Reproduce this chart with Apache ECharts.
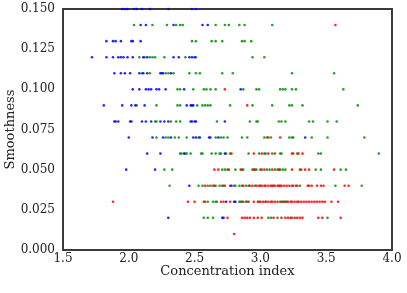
<!DOCTYPE html>
<html>
<head>
<meta charset="utf-8">
<script src="https://cdn.jsdelivr.net/npm/echarts@6/dist/echarts.min.js"></script>
<style>
html,body{margin:0;padding:0;background:#fff;}
#chart{width:407px;height:293px;}
</style>
</head>
<body>
<div id="chart"></div>
<script>
// x tick labels / y tick labels
const xTicks = [1.5, 2.0, 2.5, 3.0, 3.5, 4.0];
const yTicks = [0.000, 0.025, 0.050, 0.075, 0.100, 0.125, 0.150];

// Each row: [smoothness, [concentration index values...]]
const blueRows = [
  [0.15, [1.95, 1.97, 1.99, 2.04, 2.06, 2.10, 2.16, 2.30, 2.48, 2.51]],
  [0.14, [2.09, 2.13, 2.34, 2.56, 2.60]],
  [0.13, [1.83, 1.88, 1.90, 1.94, 2.02, 2.03, 2.09]],
  [0.12, [1.72, 1.83, 1.88, 1.92, 1.94, 1.96, 1.99, 2.03, 2.11, 2.14, 2.34, 2.38, 2.46, 2.48, 2.50]],
  [0.11, [1.89, 1.94, 1.97, 2.01, 2.08, 2.11, 2.14, 2.24, 2.25, 2.26, 2.32]],
  [0.10, [2.03, 2.08, 2.13, 2.15, 2.17, 2.21, 2.23, 2.28, 2.42, 2.85]],
  [0.09, [1.81, 1.95, 2.02, 2.05, 2.12, 2.44, 2.47, 2.48, 2.49]],
  [0.08, [1.89, 1.90, 1.92, 2.01, 2.02, 2.10, 2.13, 2.17, 2.24, 2.27, 2.30, 2.47, 2.48, 2.50, 2.51, 2.73]],
  [0.07, [2.00, 2.18, 2.26, 2.32, 2.49, 2.51, 2.54, 2.61, 2.62, 2.68, 3.34]],
  [0.06, [2.14, 2.24, 2.42, 2.73]],
  [0.05, [1.98, 2.20]],
  [0.04, [2.46, 2.78]],
  [0.03, [2.74, 2.80, 2.81]],
  [0.02, [2.30, 2.71, 2.72]]
];

const greenRows = [
  [0.14, [2.04, 2.18, 2.29, 2.36, 2.39, 2.41, 2.66, 2.73, 2.76, 2.84, 2.88, 3.09]],
  [0.13, [2.48, 2.51, 2.63, 2.66, 2.71, 2.86, 2.88, 2.93]],
  [0.12, [2.08, 2.12, 2.16, 2.18, 2.20, 2.27, 2.43, 2.51, 2.94, 3.03]],
  [0.11, [2.10, 2.16, 2.28, 2.30, 2.34, 2.46, 2.51, 2.54, 2.71, 2.79, 3.24, 3.56]],
  [0.10, [2.37, 2.39, 2.49, 2.57, 2.59, 2.62, 2.66, 2.87, 2.97, 2.99, 3.15, 3.17, 3.19, 3.24, 3.27, 3.63]],
  [0.09, [2.06, 2.21, 2.37, 2.39, 2.52, 2.56, 2.58, 2.60, 2.62, 2.77, 2.94, 3.09, 3.22, 3.24, 3.32, 3.74]],
  [0.08, [2.20, 2.21, 2.32, 2.36, 2.39, 2.67, 2.92, 2.97, 2.98, 3.14, 3.16, 3.19, 3.37, 3.40, 3.51, 3.58]],
  [0.07, [2.21, 2.28, 2.30, 2.35, 2.38, 2.44, 2.53, 2.66, 2.70, 2.72, 2.75, 2.86, 2.90, 3.03, 3.05, 3.08, 3.22, 3.24, 3.25, 3.39, 3.51, 3.79]],
  [0.06, [2.39, 2.40, 2.43, 2.44, 2.47, 2.55, 2.56, 2.63, 2.66, 2.69, 2.70, 2.74, 2.77, 2.91, 2.99, 3.03, 3.04, 3.09, 3.15, 3.16, 3.25, 3.29, 3.44, 3.46, 3.90]],
  [0.05, [2.27, 2.33, 2.71, 2.73, 2.75, 2.81, 2.86, 2.87, 2.94, 2.96, 2.97, 3.01, 3.05, 3.07, 3.11, 3.13, 3.15, 3.17, 3.19, 3.30, 3.42, 3.46, 3.61, 3.65]],
  [0.04, [2.31, 2.53, 2.56, 2.60, 2.64, 2.66, 2.69, 2.71, 2.73, 2.80, 2.81, 2.84, 2.86, 2.89, 2.91, 2.96, 3.00, 3.11, 3.25, 3.30, 3.57, 3.77]],
  [0.03, [2.58, 2.60, 2.64, 2.66, 2.67, 2.84, 2.85, 2.86, 2.89, 2.90, 2.98, 3.04, 3.15, 3.16, 3.18, 3.20]],
  [0.02, [2.57, 2.60, 2.64, 3.06, 3.08, 3.13, 3.24, 3.51]]
];

const redRows = [
  [0.14, [3.57]],
  [0.10, [2.73]],
  [0.09, [2.90]],
  [0.07, [3.06, 3.15]],
  [0.06, [2.78, 2.95, 3.01, 3.06, 3.11, 3.24, 3.28, 3.32]],
  [0.05, [2.65, 2.68, 2.76, 2.85, 2.95, 3.00, 3.03, 3.09, 3.14, 3.24, 3.31, 3.34, 3.37, 3.56]],
  [0.04, [2.58, 2.62, 2.65, 2.72, 2.77, 2.87, 2.92, 2.94, 2.97, 2.99, 3.01, 3.03, 3.04, 3.06, 3.08, 3.09, 3.10, 3.13, 3.14, 3.15, 3.16, 3.18, 3.20, 3.22, 3.24, 3.27, 3.28, 3.36, 3.37, 3.39, 3.43, 3.46, 3.48, 3.64, 3.67]],
  [0.03, [1.88, 2.45, 2.50, 2.57, 2.70, 2.72, 2.77, 2.87, 2.91, 2.95, 2.99, 3.00, 3.02, 3.04, 3.06, 3.08, 3.09, 3.11, 3.13, 3.17, 3.19, 3.21, 3.23, 3.24, 3.26, 3.28, 3.29, 3.31, 3.33, 3.35, 3.37, 3.39, 3.41, 3.43, 3.45, 3.47, 3.49, 3.54, 3.59]],
  [0.02, [2.75, 2.86, 2.88, 2.90, 2.92, 2.95, 2.98, 3.01, 3.10, 3.16, 3.19, 3.21, 3.23, 3.26, 3.28, 3.30, 3.32, 3.44, 3.47, 3.61]],
  [0.01, [2.80]]
];

function toPoints(rows) {
  const out = [];
  rows.forEach(function (r) { r[1].forEach(function (x) { out.push([x, r[0]]); }); });
  return out;
}

const FONT = 'DejaVu Serif';
const chart = echarts.init(document.getElementById('chart'), null, {renderer: 'canvas'});
function mk(name, rows, color) {
  return {
    name: name, type: 'scatter', data: toPoints(rows),
    symbol: 'circle', symbolSize: 2.6,
    itemStyle: {color: color, opacity: 0.85},
    clip: true, animation: false
  };
}
chart.setOption({
  animation: false,
  backgroundColor: '#fff',
  grid: {left: 63, right: 15, top: 9, bottom: 43, containLabel: false, outerBoundsMode: 'none',
         show: true, borderColor: '#3a3a3a', borderWidth: 2, backgroundColor: 'transparent'},
  xAxis: {
    type: 'value', min: xTicks[0], max: xTicks[xTicks.length - 1], interval: 0.5,
    name: 'Concentration index', nameLocation: 'middle', nameGap: 15, nameMoveOverlap: false,
    nameTextStyle: {fontFamily: FONT, fontSize: 13, color: '#222'},
    axisLine: {show: false}, axisTick: {show: false}, splitLine: {show: false},
    axisLabel: {margin: 3, fontFamily: FONT, fontSize: 12, color: '#222', formatter: function (v) { return v.toFixed(1); }}
  },
  yAxis: {
    type: 'value', min: yTicks[0], max: yTicks[yTicks.length - 1], interval: 0.025,
    name: 'Smoothness', nameLocation: 'middle', nameGap: 46, nameMoveOverlap: false,
    nameTextStyle: {fontFamily: FONT, fontSize: 13, color: '#222'},
    axisLine: {show: false}, axisTick: {show: false}, splitLine: {show: false},
    axisLabel: {margin: 8, fontFamily: FONT, fontSize: 12, color: '#222', formatter: function (v) { return v.toFixed(3); }}
  },
  series: [
    mk('green', greenRows, '#0a8a0a'),
    mk('red', redRows, '#ff0000'),
    mk('blue', blueRows, '#0000ff')
  ]
});
</script>
</body>
</html>
